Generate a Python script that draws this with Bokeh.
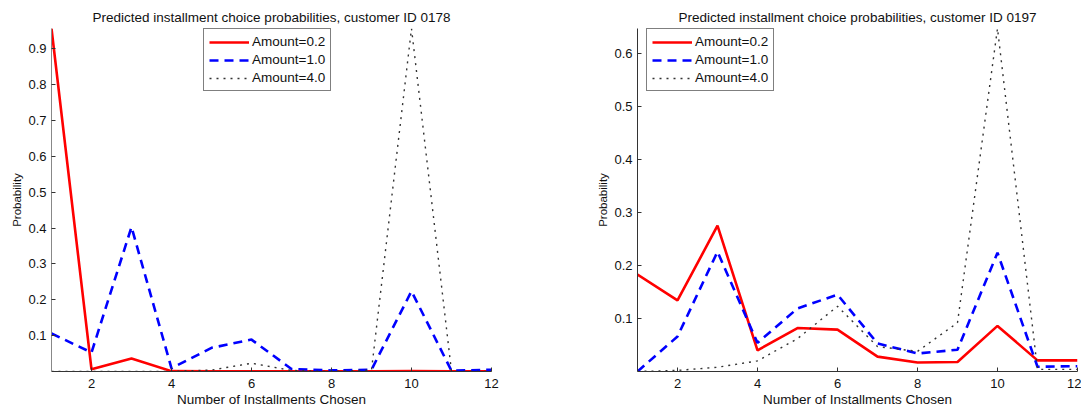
from bokeh.plotting import figure
from bokeh.layouts import row
from bokeh.models import Range1d, FixedTicker, Legend, LegendItem
from bokeh.embed import file_html
from bokeh.resources import INLINE

# ---------------- data ----------------
installments = [1, 2, 3, 4, 5, 6, 7, 8, 9, 10, 11, 12]
amount_labels = ["Amount=0.2", "Amount=1.0", "Amount=4.0"]

# customer ID 0178
c0178_amt02 = [0.957, 0.006, 0.036, 0.001, 0.0005, 0.0005, 0.0005, 0.0005, 0.0005, 0.001, 0.0005, 0.0005]
c0178_amt10 = [0.106, 0.053, 0.403, 0.009, 0.066, 0.089, 0.007, 0.003, 0.005, 0.224, 0.002, 0.005]
c0178_amt40 = [0.0, 0.0, 0.0, 0.0, 0.004, 0.023, 0.003, 0.0, 0.004, 0.957, 0.0, 0.0]

# customer ID 0197
c0197_amt02 = [0.183, 0.134, 0.275, 0.040, 0.082, 0.079, 0.028, 0.017, 0.018, 0.086, 0.021, 0.021]
c0197_amt10 = [0.0, 0.066, 0.226, 0.054, 0.119, 0.145, 0.053, 0.034, 0.041, 0.224, 0.009, 0.010]
c0197_amt40 = [0.0, 0.002, 0.008, 0.020, 0.062, 0.123, 0.047, 0.038, 0.092, 0.647, 0.004, 0.004]

x_ticks = [2, 4, 6, 8, 10, 12]
y_ticks_0178 = [0.1, 0.2, 0.3, 0.4, 0.5, 0.6, 0.7, 0.8, 0.9]
y_ticks_0197 = [0.1, 0.2, 0.3, 0.4, 0.5, 0.6]

titles = ["Predicted installment choice probabilities, customer ID 0178",
          "Predicted installment choice probabilities, customer ID 0197"]
x_label = "Number of Installments Chosen"
y_label = "Probability"

FONT = "Liberation Sans"
H = 410
styles = [
    dict(line_color="#ff0000", line_width=2.6, line_dash="solid"),
    dict(line_color="#0000ff", line_width=2.6, line_dash="9 6"),
    dict(line_color="#333333", line_width=1.4, line_dash="2 5"),
]


def make_plot(title, series, yticks, width, bl, br, legend_xy, yaxis_color):
    ymax = max(max(s) for s in series)
    p = figure(width=width, height=H, output_backend="svg", toolbar_location=None,
               x_range=Range1d(1, 12), y_range=Range1d(0, ymax),
               min_border_left=bl, min_border_right=br,
               min_border_top=28, min_border_bottom=39)
    p.title.text = title
    p.title.align = "center"
    p.title.vertical_align = "top"
    p.title.text_font = FONT
    p.title.text_font_size = "13.5px"
    p.title.text_font_style = "normal"
    p.title.text_color = "#111111"
    p.title.standoff = 3
    p.outline_line_color = None
    p.xgrid.visible = False
    p.ygrid.visible = False
    p.background_fill_color = "white"

    p.xaxis.ticker = FixedTicker(ticks=x_ticks)
    p.yaxis.ticker = FixedTicker(ticks=yticks)
    for ax in (p.xaxis, p.yaxis):
        ax.major_tick_in = 4
        ax.major_tick_out = 0
        ax.minor_tick_line_color = None
        ax.major_label_text_font = FONT
        ax.major_label_text_font_size = "13px"
        ax.major_label_text_color = "#111111"
        ax.axis_label_text_font = FONT
        ax.axis_label_text_font_style = "normal"
        ax.axis_label_text_color = "#111111"
    p.xaxis.axis_line_color = "#333333"
    p.xaxis.major_tick_line_color = "#333333"
    p.yaxis.axis_line_color = yaxis_color
    p.yaxis.major_tick_line_color = "#333333"
    p.xaxis.axis_label = x_label
    p.xaxis.axis_label_text_font_size = "13.5px"
    p.xaxis.major_label_standoff = 7
    p.xaxis.axis_label_standoff = 1
    p.yaxis.axis_label = y_label
    p.yaxis.axis_label_text_font_size = "11.5px"
    p.yaxis.major_label_standoff = 5
    p.yaxis.axis_label_standoff = 2

    items = []
    for ys, st, lab in zip(series, styles, amount_labels):
        r = p.line(installments, ys, **st)
        items.append(LegendItem(label=lab, renderers=[r]))
    leg = Legend(items=items, location=legend_xy)
    leg.label_text_font = FONT
    leg.label_text_font_size = "13.5px"
    leg.label_text_color = "#111111"
    leg.glyph_width = 40
    leg.glyph_height = 14
    leg.label_height = 14
    leg.label_standoff = 3
    leg.spacing = 3
    leg.padding = 5
    leg.margin = 0
    leg.border_line_color = "black"
    leg.border_line_width = 1
    leg.background_fill_alpha = 1
    p.add_layout(leg, "center")
    return p


W1 = 538
W2 = 543
p1 = make_plot(titles[0], [c0178_amt02, c0178_amt10, c0178_amt40], y_ticks_0178,
               W1, 51, W1 - 51 - 440, (152, 280), "#888888")
p2 = make_plot(titles[1], [c0197_amt02, c0197_amt10, c0197_amt40], y_ticks_0197,
               W2, W2 - 440 - 4, 4, (9, 280), "#333333")

layout = row(p1, p2)
open("out.html", "w").write(file_html(layout, INLINE))
